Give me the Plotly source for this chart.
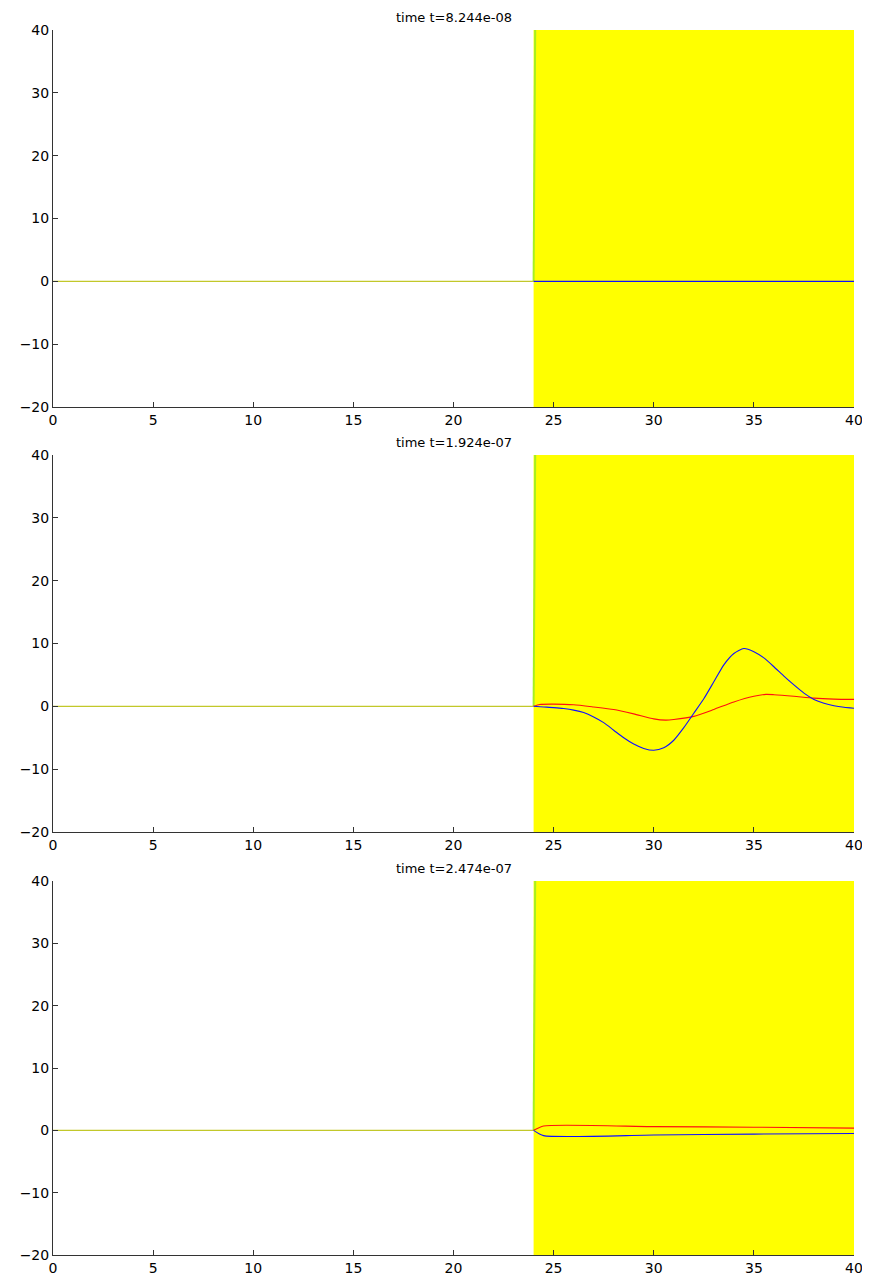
import plotly.graph_objects as go

# ---------------- data ----------------
titles = ["time t=8.244e-08", "time t=1.924e-07", "time t=2.474e-07"]

# yellow region (x from 24 to 40, full y range)
region_x = [24, 40, 40, 24, 24]
region_y = [-20, -20, 40, 40, -20]

# left flat line (x 0..24)
left_x = [0, 24]
left_y = [0, 0]

# green boundary edge
edge_x = [24, 24.08]
edge_y = [0, 40]

# panel 1
p1_blue_x = [24, 40]
p1_blue_y = [0, 0]

# panel 2
p2_blue_x = [24, 24.5, 25, 25.5, 26, 26.5, 27, 27.5, 28, 28.5, 29, 29.5, 30, 30.5,
             31, 31.5, 32, 32.5, 33, 33.5, 34, 34.5, 35, 35.5, 36, 36.5, 37, 37.5,
             38, 38.5, 39, 39.5, 40]
p2_blue_y = [0, -0.1, -0.2, -0.35, -0.6, -1.0, -1.7, -2.6, -3.8, -5.0, -6.0, -6.7, -7.0, -6.6,
             -5.4, -3.4, -1.1, 1.2, 3.9, 6.6, 8.4, 9.2, 8.7, 7.7, 6.3, 4.8, 3.4, 2.1,
             1.1, 0.5, 0.1, -0.15, -0.3]
p2_red_x = [24, 24.3, 25, 26, 27, 28, 29, 30, 30.6, 31, 32, 33, 34, 35, 35.6, 36, 37, 38, 39, 40]
p2_red_y = [0, 0.3, 0.35, 0.25, -0.1, -0.5, -1.2, -2.0, -2.2, -2.1, -1.6, -0.5, 0.7, 1.6, 1.9,
            1.85, 1.6, 1.3, 1.15, 1.1]

# panel 3
p3_red_x = [24, 24.5, 30, 35, 40]
p3_red_y = [0, 0.7, 0.6, 0.5, 0.35]
p3_blue_x = [24, 24.5, 30, 35, 40]
p3_blue_y = [0, -0.85, -0.75, -0.6, -0.5]

x_ticks = [0, 5, 10, 15, 20, 25, 30, 35, 40]
y_ticks = [-20, -10, 0, 10, 20, 30, 40]

# ---------------- figure ----------------
YELLOW = "#ffff00"
LEFT_C = "#c2c82a"
EDGE_C = "#a8f020"
BLUE = "#1010ff"
RED = "#ff1010"

domains = [[0.6922, 1.0], [0.3453, 0.6531], [0.0, 0.3053]]

fig = go.Figure()

curves = [
    [(p1_blue_x, p1_blue_y, BLUE)],
    [(p2_red_x, p2_red_y, RED), (p2_blue_x, p2_blue_y, BLUE)],
    [(p3_red_x, p3_red_y, RED), (p3_blue_x, p3_blue_y, BLUE)],
]

for i in range(3):
    xa = "x" if i == 0 else f"x{i+1}"
    ya = "y" if i == 0 else f"y{i+1}"
    fig.add_trace(go.Scatter(x=region_x, y=region_y, fill="toself", fillcolor=YELLOW,
                             mode="none", xaxis=xa, yaxis=ya, showlegend=False,
                             hoverinfo="skip"))
    fig.add_trace(go.Scatter(x=edge_x, y=edge_y, mode="lines",
                             line=dict(color=EDGE_C, width=2), xaxis=xa, yaxis=ya,
                             showlegend=False))
    fig.add_trace(go.Scatter(x=left_x, y=left_y, mode="lines",
                             line=dict(color=LEFT_C, width=1.2), xaxis=xa, yaxis=ya,
                             showlegend=False))
    for cx, cy, col in curves[i]:
        fig.add_trace(go.Scatter(x=cx, y=cy, mode="lines",
                                 line=dict(color=col, width=1.1, shape="spline", smoothing=0.6),
                                 xaxis=xa, yaxis=ya, showlegend=False))

font = dict(family="DejaVu Sans, sans-serif", size=14, color="#000000")
layout = dict(
    width=862, height=1268,
    margin=dict(l=45, r=16, t=22, b=21, autoexpand=False),
    paper_bgcolor="white", plot_bgcolor="white",
    font=font,
    showlegend=False,
)
annotations = []
for i in range(3):
    sx = "" if i == 0 else str(i + 1)
    layout["xaxis" + sx] = dict(
        domain=[0, 1], range=[0, 40], anchor="y" + sx,
        tickvals=x_ticks, ticks="inside", ticklen=5, tickcolor="#333333",
        showline=True, linecolor="#333333", linewidth=1,
        showgrid=False, zeroline=False, tickfont=font,
    )
    layout["yaxis" + sx] = dict(
        domain=domains[i], range=[-20, 40], anchor="x" + sx,
        tickvals=y_ticks, ticks="inside", ticklen=5, tickcolor="#333333",
        showline=True, linecolor="#333333", linewidth=1,
        showgrid=False, zeroline=False, tickfont=font,
    )
    annotations.append(dict(
        text=titles[i], xref="paper", yref="paper", x=0.5, y=domains[i][1],
        xanchor="center", yanchor="bottom", yshift=3, showarrow=False,
        font=dict(family="DejaVu Sans, sans-serif", size=13, color="#000000"),
    ))
layout["annotations"] = annotations
fig.update_layout(**layout)

fig.write_html("out.html")
